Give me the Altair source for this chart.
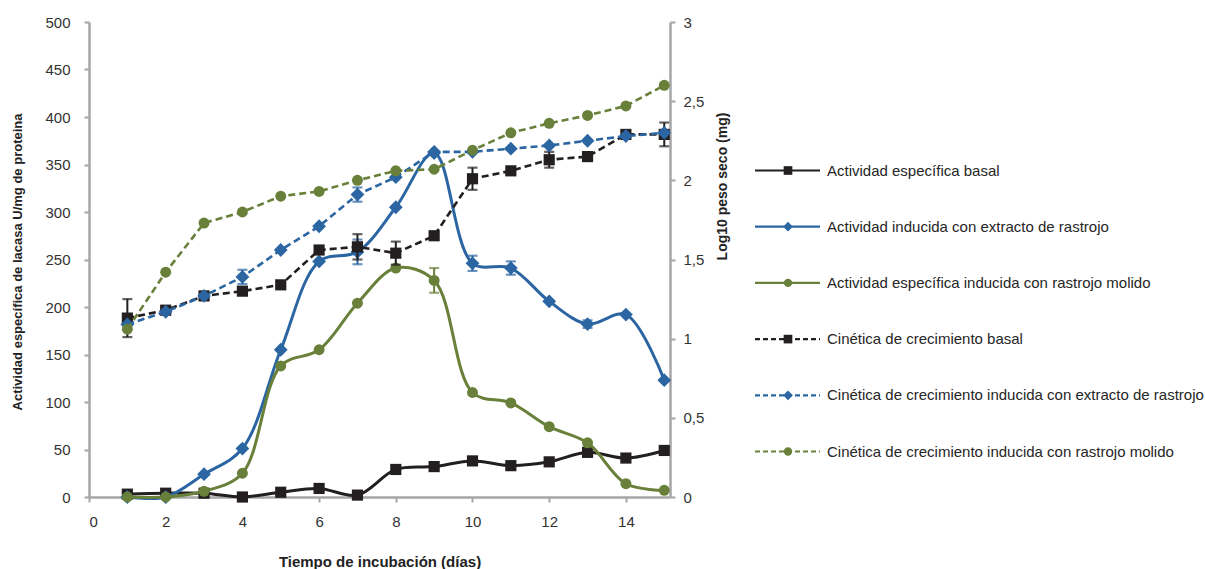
import altair as alt
import pandas as pd

# ---------------- data ----------------
days = list(range(1, 16))

labels = [
    "Actividad específica basal",
    "Actividad inducida con extracto de rastrojo",
    "Actividad específica inducida con rastrojo molido",
    "Cinética de crecimiento basal",
    "Cinética de crecimiento inducida con extracto de rastrojo",
    "Cinética de crecimiento inducida con rastrojo molido",
]

# left axis: U/mg de proteina
act_basal = [3, 4, 4, 0, 5, 9, 2, 29, 32, 38, 33, 37, 47, 41, 49]
act_extracto = [0, 0, 24, 51, 155, 248, 258, 305, 362, 246, 241, 206, 182, 192, 123]
act_molido = [0, 0, 6, 25, 138, 155, 204, 241, 228, 110, 99, 74, 57, 14, 7]
act_basal_err = [0] * 15
act_extracto_err = [0, 0, 0, 0, 0, 0, 13, 0, 0, 8, 7, 0, 4, 0, 0]
act_molido_err = [0, 0, 0, 0, 0, 0, 0, 0, 13, 0, 0, 0, 0, 0, 0]

# right axis: Log10 peso seco (mg)
gr_basal = [1.13, 1.18, 1.27, 1.30, 1.34, 1.56, 1.58, 1.54, 1.65, 2.01, 2.06, 2.13, 2.15, 2.29, 2.29]
gr_extracto = [1.09, 1.17, 1.27, 1.39, 1.56, 1.71, 1.91, 2.02, 2.18, 2.18, 2.20, 2.22, 2.25, 2.28, 2.30]
gr_molido = [1.06, 1.42, 1.73, 1.80, 1.90, 1.93, 2.00, 2.06, 2.07, 2.19, 2.30, 2.36, 2.41, 2.47, 2.60]
gr_basal_err = [0.12, 0, 0, 0, 0, 0, 0.08, 0.073, 0, 0.07, 0, 0.05, 0, 0, 0.075]
gr_extracto_err = [0, 0, 0, 0.045, 0, 0, 0.045, 0, 0, 0, 0, 0, 0, 0, 0]
gr_molido_err = [0] * 15

left_ticks = [0, 50, 100, 150, 200, 250, 300, 350, 400, 450, 500]
right_ticks = [0, 0.5, 1, 1.5, 2, 2.5, 3]
x_ticks = [0, 2, 4, 6, 8, 10, 12, 14]

# ---------------- styles ----------------
BLACK = "#231f20"
BLUE = "#2b66a3"
GREEN = "#69803a"
colors = [BLACK, BLUE, GREEN, BLACK, BLUE, GREEN]
shapes = ["square", "diamond", "circle", "square", "diamond", "circle"]
sizes = [125, 190, 120, 125, 190, 120]
leg_sizes = [75, 95, 70, 75, 95, 70]
DASH = [7, 4]
FONT = "Liberation Sans"

W, H = 581, 475

x_enc = alt.X(
    "x:Q",
    scale=alt.Scale(domain=[0, 15.15], nice=False, zero=False),
    axis=alt.Axis(
        values=x_ticks,
        title="Tiempo de incubación (días)",
        labelPadding=12,
        titleY=64,
        titleFontSize=15,
        titleBaseline="middle",
    ),
)


def y_left(field):
    return alt.Y(
        field,
        type="quantitative",
        scale=alt.Scale(domain=[0, 500], nice=False),
        axis=alt.Axis(
            orient="left",
            values=left_ticks,
            title="Actividad específica de lacasa U/mg de proteina",
            labelPadding=14,
            titleAngle=270,
            titleX=-72,
            titleY=H / 2 + 2,
            titleAlign="center",
            titleBaseline="middle",
        ),
    )


def y_right(field):
    return alt.Y(
        field,
        type="quantitative",
        scale=alt.Scale(domain=[0, 3], nice=False),
        axis=alt.Axis(
            orient="right",
            values=right_ticks,
            labelExpr="replace(toString(datum.value), '.', ',')",
            title="Log10 peso seco (mg)",
            titleFontSize=14,
            labelPadding=8,
            titleAngle=270,
            titleX=52,
            titleY=164,
            titleAlign="center",
            titleBaseline="middle",
        ),
    )


def series_layers(vals, errs, idx, yfun, dashed):
    df = pd.DataFrame({"x": days, "y": vals, "err": errs})
    df["lo"] = df["y"] - df["err"]
    df["hi"] = df["y"] + df["err"]
    base = alt.Chart(df)
    line_kwargs = dict(color=colors[idx], strokeWidth=2.6 if dashed else 3.0)
    if dashed:
        line_kwargs["strokeDash"] = DASH
        line_kwargs["interpolate"] = "linear"
    else:
        line_kwargs["interpolate"] = "catmull-rom"
    line = base.mark_line(**line_kwargs).encode(x=x_enc, y=yfun("y"))
    ecol = BLACK if idx in (0, 3) else colors[idx]
    edf = base.transform_filter("datum.err > 0")
    rule = edf.mark_rule(color=ecol, strokeWidth=2).encode(x=x_enc, y=yfun("lo"), y2="hi")
    cap_lo = edf.mark_tick(color=ecol, orient="horizontal", size=10, thickness=2.2).encode(
        x=x_enc, y=yfun("lo"))
    cap_hi = edf.mark_tick(color=ecol, orient="horizontal", size=10, thickness=2.2).encode(
        x=x_enc, y=yfun("hi"))
    pts = base.mark_point(
        shape=shapes[idx], filled=True, size=sizes[idx], color=colors[idx], opacity=1
    ).encode(x=x_enc, y=yfun("y"))
    return [line, rule, cap_lo, cap_hi, pts]


left_layers = []
for i, (v, e) in enumerate([(act_basal, act_basal_err), (act_extracto, act_extracto_err),
                            (act_molido, act_molido_err)]):
    left_layers += series_layers(v, e, i, y_left, False)

right_layers = []
for j, (v, e) in enumerate([(gr_basal, gr_basal_err), (gr_extracto, gr_extracto_err),
                            (gr_molido, gr_molido_err)]):
    right_layers += series_layers(v, e, j + 3, y_right, True)

main = (
    alt.layer(alt.layer(*left_layers), alt.layer(*right_layers))
    .resolve_scale(y="independent")
    .properties(width=W, height=H)
)

# ---------------- legend panel ----------------
LW = 440
leg_df = pd.DataFrame({"label": labels, "idx": list(range(6))})
lx = alt.Scale(domain=[0, LW], nice=False, zero=False)
ROW0 = 148.5
STEP = 56.2
ly = alt.Scale(domain=[-ROW0 / STEP, (H - ROW0) / STEP], reverse=True, nice=False, zero=False)

leg_layers = []
for i in range(6):
    d = leg_df[leg_df["idx"] == i].assign(x0=0, x1=65, xm=33, xt=72)
    b = alt.Chart(d)
    rk = dict(color=colors[i], strokeWidth=2.2)
    if i >= 3:
        rk["strokeDash"] = [5, 3]
    leg_layers.append(
        b.mark_rule(**rk).encode(
            x=alt.X("x0:Q", scale=lx, axis=None), x2="x1:Q",
            y=alt.Y("idx:Q", scale=ly, axis=None)
        )
    )
    leg_layers.append(
        b.mark_point(shape=shapes[i], filled=True, size=leg_sizes[i], color=colors[i], opacity=1).encode(
            x=alt.X("xm:Q", scale=lx, axis=None), y=alt.Y("idx:Q", scale=ly, axis=None)
        )
    )
    leg_layers.append(
        b.mark_text(align="left", baseline="middle", fontSize=15, font=FONT, color="#262626").encode(
            x=alt.X("xt:Q", scale=lx, axis=None), y=alt.Y("idx:Q", scale=ly, axis=None),
            text="label:N"
        )
    )

legend = alt.layer(*leg_layers).properties(width=LW, height=H)

chart = (
    alt.hconcat(main, legend, spacing=24)
    .properties(padding={"left": 11, "top": 15, "right": 0, "bottom": 0})
    .configure_view(stroke=None)
    .configure_axis(
        grid=False,
        labelFont=FONT,
        labelFontSize=15,
        labelColor="#333333",
        titleFont=FONT,
        titleFontSize=13,
        titleFontWeight="bold",
        titleColor="#222222",
        domainColor="#a6a6a6",
        domainWidth=2.5,
        tickColor="#a6a6a6",
        tickWidth=2,
        tickSize=5,
    )
)

chart.save("out.html", embed_options={"renderer": "svg", "actions": False})
